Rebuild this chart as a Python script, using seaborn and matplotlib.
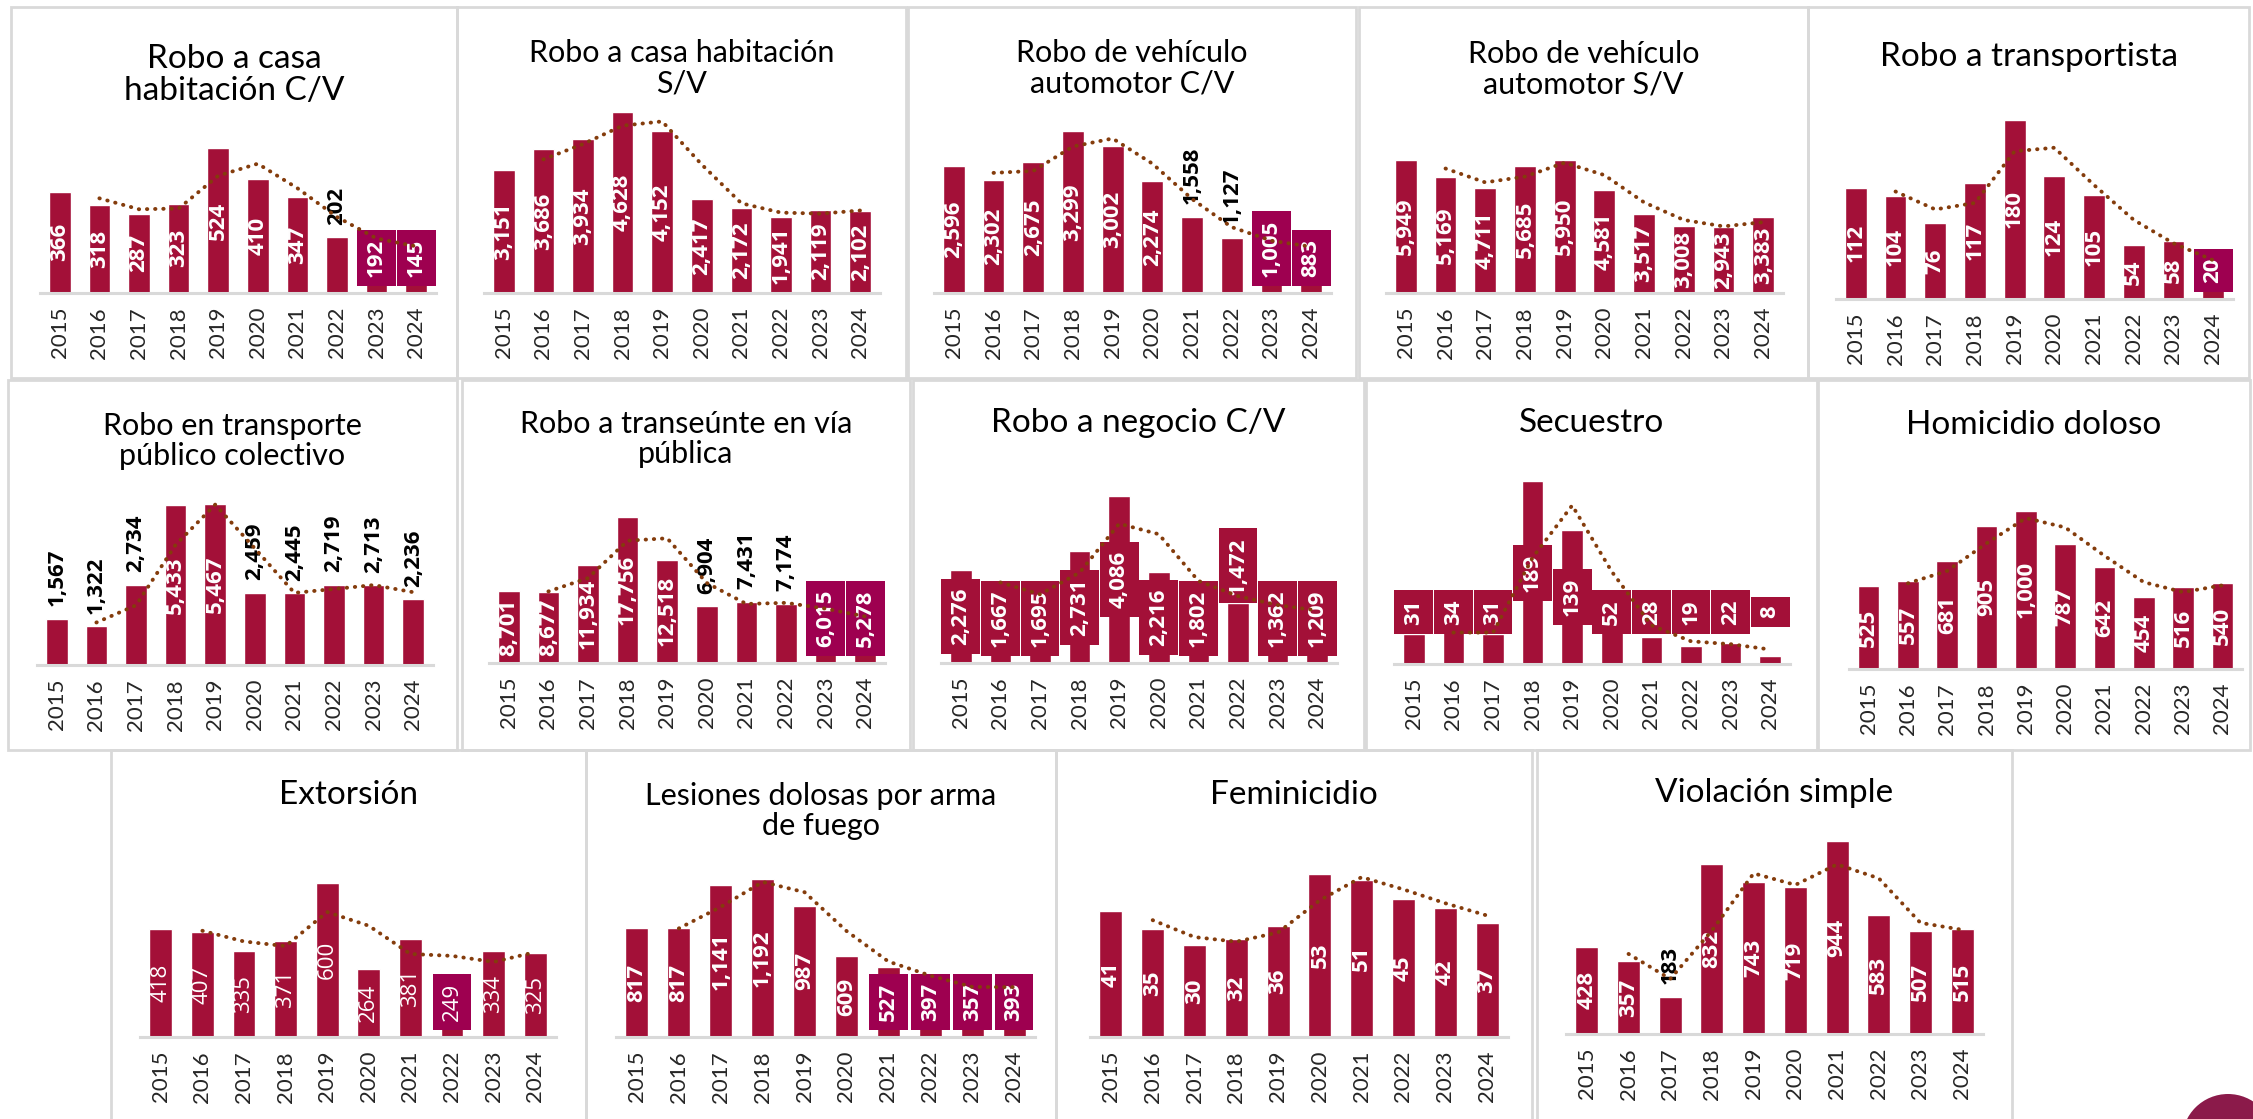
import pandas as pd
import matplotlib.pyplot as plt
import seaborn as sns
from matplotlib.patches import Rectangle, Circle

sns.set_style('white')
plt.rcParams['font.family'] = ['Lato', 'DejaVu Sans']

# Years shown on every panel
years = [str(y) for y in range(2015, 2025)]

# Values per crime
casa_cv = [366, 318, 287, 323, 524, 410, 347, 202, 192, 145]
casa_sv = [3151, 3686, 3934, 4628, 4152, 2417, 2172, 1941, 2119, 2102]
vehiculo_cv = [2596, 2302, 2675, 3299, 3002, 2274, 1558, 1127, 1005, 883]
vehiculo_sv = [5949, 5169, 4711, 5685, 5950, 4581, 3517, 3008, 2943, 3383]
transportista = [112, 104, 76, 117, 180, 124, 105, 54, 58, 20]
transporte_publico = [1567, 1322, 2734, 5433, 5467, 2459, 2445, 2719, 2713, 2236]
transeunte = [8701, 8677, 11934, 17756, 12518, 6904, 7431, 7174, 6015, 5278]
negocio_cv = [2276, 1667, 1695, 2731, 4086, 2216, 1802, 1472, 1362, 1209]
secuestro = [31, 34, 31, 189, 139, 52, 28, 19, 22, 8]
homicidio = [525, 557, 681, 905, 1000, 787, 642, 454, 516, 540]
extorsion = [418, 407, 335, 371, 600, 264, 381, 249, 334, 325]
lesiones = [817, 817, 1141, 1192, 987, 609, 527, 397, 357, 393]
feminicidio = [41, 35, 30, 32, 36, 53, 51, 45, 42, 37]
violacion = [428, 357, 183, 832, 743, 719, 944, 583, 507, 515]

titles = [
    'Robo a casa\nhabitación C/V', 'Robo a casa habitación\nS/V',
    'Robo de vehículo\nautomotor C/V', 'Robo de vehículo\nautomotor S/V',
    'Robo a transportista', 'Robo en transporte\npúblico colectivo',
    'Robo a transeúnte en vía\npública', 'Robo a negocio C/V', 'Secuestro',
    'Homicidio doloso', 'Extorsión', 'Lesiones dolosas por arma\nde fuego',
    'Feminicidio', 'Violación simple',
]
series = [casa_cv, casa_sv, vehiculo_cv, vehiculo_sv, transportista,
          transporte_publico, transeunte, negocio_cv, secuestro, homicidio,
          extorsion, lesiones, feminicidio, violacion]

# Axis maximum of each small chart
y_top = [744, 5270, 4200, 9200, 207, 7000, 25000, 5040, 213, 1300,
         800, 1550, 67, 1010]

# label style per bar: in / out / box (magenta) / rbox (crimson box) / rboxout
label_styles = [
    ['in'] * 7 + ['out', 'box', 'box'],
    ['in'] * 10,
    ['in'] * 6 + ['out', 'out', 'box', 'box'],
    ['in'] * 10,
    ['in'] * 9 + ['box'],
    ['out', 'out', 'out', 'in', 'in', 'out', 'out', 'out', 'out', 'out'],
    ['in'] * 5 + ['out'] * 3 + ['box'] * 2,
    ['rbox'] * 7 + ['rboxout'] + ['rbox'] * 2,
    ['rbox'] * 10,
    ['in'] * 10,
    ['in'] * 7 + ['box'] + ['in'] * 2,
    ['in'] * 6 + ['box'] * 4,
    ['in'] * 10,
    ['in', 'in', 'out'] + ['in'] * 7,
]
label_weight = ['bold'] * 10 + ['normal'] + ['bold'] * 3
# lowest label centre (px above the baseline) for each panel
label_floor = [0, 0, 0, 0, 0, 0, 0, 0, 52, 0, 0, 0, 0, 0]
big_title = [True, False, False, False, True, False, False, True, True, True,
             True, False, True, True]

# layout in pixels: panel frame (x0, y0, x1, y1), axes (left, baseline, width), title y
frames = [
    (11, 7, 457, 378), (457, 7, 906, 378), (908, 7, 1356, 378),
    (1359, 7, 1808, 378), (1808, 7, 2249, 378),
    (8, 380, 457, 750), (462, 380, 910, 750), (913, 380, 1364, 750),
    (1366, 380, 1817, 750), (1818, 380, 2250, 750),
    (111, 750, 586, 1130), (586, 750, 1056, 1130), (1056, 750, 1532, 1130),
    (1537, 750, 2012, 1130),
]
axes_pos = [
    (40, 293, 396), (484, 293, 396), (934, 293, 397), (1386, 293, 397),
    (1836, 299, 397),
    (37, 665, 396), (489, 663, 396), (941, 663, 396), (1394, 664, 396),
    (1849, 669, 393),
    (140, 1037, 416), (616, 1037, 419), (1090, 1037, 418), (1566, 1034, 417),
]
title_y = [75, 68, 68, 69, 57, 441, 439, 423, 423, 425, 795, 811, 795, 793]

W, H = 2253, 1119
AX_H = 206
BAR = '#A31038'
MAGENTA = '#9E0050'
TREND = '#843C0C'
GRID = '#D9D9D9'
LABEL_FONT = ['Open Sans', 'DejaVu Sans']
LABEL_PT = 16
LABEL_PX = LABEL_PT * 100 / 72

fig = plt.figure(figsize=(W / 100, H / 100), dpi=100)
fig.patch.set_facecolor('white')

for (x0, y0, x1, y1) in frames:
    fig.patches.append(Rectangle((x0 / W, 1 - y1 / H), (x1 - x0) / W, (y1 - y0) / H,
                                 transform=fig.transFigure, fill=False,
                                 edgecolor=GRID, linewidth=2, zorder=0))


def text_len(s):
    return sum(0.27 if c == ',' else 0.57 for c in s) * LABEL_PX


for k in range(len(series)):
    vals = series[k]
    left, base, width = axes_pos[k]
    ax = fig.add_axes([left / W, 1 - base / H, width / W, AX_H / H])
    df = pd.DataFrame({'year': years, 'value': vals})
    sns.barplot(data=df, x='year', y='value', color=BAR, saturation=1,
                width=0.55, ax=ax, zorder=2)
    ma = df['value'].rolling(2).mean()
    ax.plot(range(len(vals)), ma, color=TREND, linewidth=2.8,
            linestyle=(0, (0.1, 2.0)), dash_capstyle='round', zorder=6)

    ymax = y_top[k]
    ax.set_xlim(-0.5, len(vals) - 0.5)
    ax.set_ylim(0, ymax)
    ppu = AX_H / ymax
    for i, v in enumerate(vals):
        lab = f'{v:,}'
        st = label_styles[k][i]
        bar_px = v * ppu
        tl = text_len(lab)
        if st == 'out':
            ax.annotate(lab, xy=(i, v), xytext=(0, 9), textcoords='offset points',
                        rotation=90, ha='center', va='bottom', color='black',
                        fontsize=LABEL_PT, fontweight='bold', family=LABEL_FONT,
                        zorder=4)
            continue
        if st == 'rboxout':
            ax.annotate(lab, xy=(i, v), xytext=(0, 6), textcoords='offset points',
                        rotation=90, ha='center', va='bottom', color='white',
                        fontsize=LABEL_PT, fontweight='bold', family=LABEL_FONT,
                        zorder=4,
                        bbox=dict(boxstyle='square,pad=0.4', fc=BAR, ec='none'))
            continue
        boxed = st in ('box', 'rbox')
        extra = 16 if boxed else 4
        center_px = max(bar_px / 2, tl / 2 + extra, label_floor[k])
        kw = {}
        if boxed:
            kw['bbox'] = dict(boxstyle='square,pad=0.4',
                              fc=MAGENTA if st == 'box' else BAR, ec='none')
        ax.text(i, center_px / ppu, lab, rotation=90, ha='center', va='center',
                color='white', fontsize=LABEL_PT, fontweight=label_weight[k],
                family=LABEL_FONT, zorder=4, **kw)

    sns.despine(ax=ax, left=True)
    ax.spines['bottom'].set_color(GRID)
    ax.spines['bottom'].set_linewidth(2.2)
    ax.set_yticks([])
    ax.set_xlabel('')
    ax.set_ylabel('')
    ax.tick_params(axis='x', length=0, pad=10, labelsize=16, rotation=90)
    ax.patch.set_alpha(0)

    x0, y0, x1, y1 = frames[k]
    fig.text((x0 + x1) / 2 / W, 1 - title_y[k] / H, titles[k],
             ha='center', va='center', fontsize=24 if big_title[k] else 22,
             color='black', linespacing=1.12)

# decorative circle in the bottom right corner
fig.patches.append(Circle((22.28, 11.19 - 11.40), 0.46, transform=fig.dpi_scale_trans,
                          facecolor='#8B1A4A', edgecolor='none'))

fig.savefig('out.png', dpi=100)
